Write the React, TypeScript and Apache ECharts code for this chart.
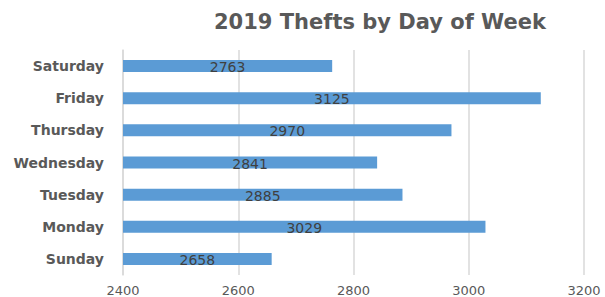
import React, { useEffect, useRef } from "react";
import * as echarts from "echarts";

const days = ["Sunday", "Monday", "Tuesday", "Wednesday", "Thursday", "Friday", "Saturday"];
const thefts = [2658, 3029, 2885, 2841, 2970, 3125, 2763];
const xTicks = { min: 2400, max: 3200, interval: 200 };

export default function App() {
  const ref = useRef<HTMLDivElement>(null);
  useEffect(() => {
    document.body.style.margin = "0";
    const chart = echarts.init(ref.current!, null, { renderer: "svg" });
    chart.setOption({
      animation: false,
      backgroundColor: "#ffffff",
      title: {
        text: "2019 Thefts by Day of Week",
        left: 375,
        textAlign: "center",
        top: 6,
        textStyle: { fontFamily: "DejaVu Sans", fontWeight: "bold", fontSize: 21, color: "#595959" },
      },
      grid: { left: 123, right: 21, top: 50, bottom: 22, containLabel: false },
      xAxis: {
        type: "value",
        min: xTicks.min,
        max: xTicks.max,
        interval: xTicks.interval,
        axisLine: { show: false },
        axisTick: { show: false },
        splitLine: { show: true, lineStyle: { color: "#d9d9d9", width: 1.5 } },
        axisLabel: {
          color: "#595959",
          fontFamily: "DejaVu Sans",
          fontSize: 13,
          margin: 9,
          formatter: (v: number) => String(v),
        },
      },
      yAxis: {
        type: "category",
        data: days,
        axisLine: { show: true, lineStyle: { color: "#d9d9d9", width: 1.5 } },
        axisTick: { show: false },
        axisLabel: { color: "#595959", fontFamily: "DejaVu Sans", fontWeight: "bold", fontSize: 14, margin: 19 },
      },
      series: [
        {
          type: "bar",
          data: thefts,
          barWidth: 12,
          itemStyle: { color: "#5b9bd5" },
          label: {
            show: true,
            position: "inside",
            offset: [0, 1],
            color: "#404040",
            fontFamily: "DejaVu Sans",
            fontSize: 14,
          },
        },
      ],
    });
    return () => chart.dispose();
  }, []);
  return <div ref={ref} style={{ width: 605, height: 297 }} />;
}
